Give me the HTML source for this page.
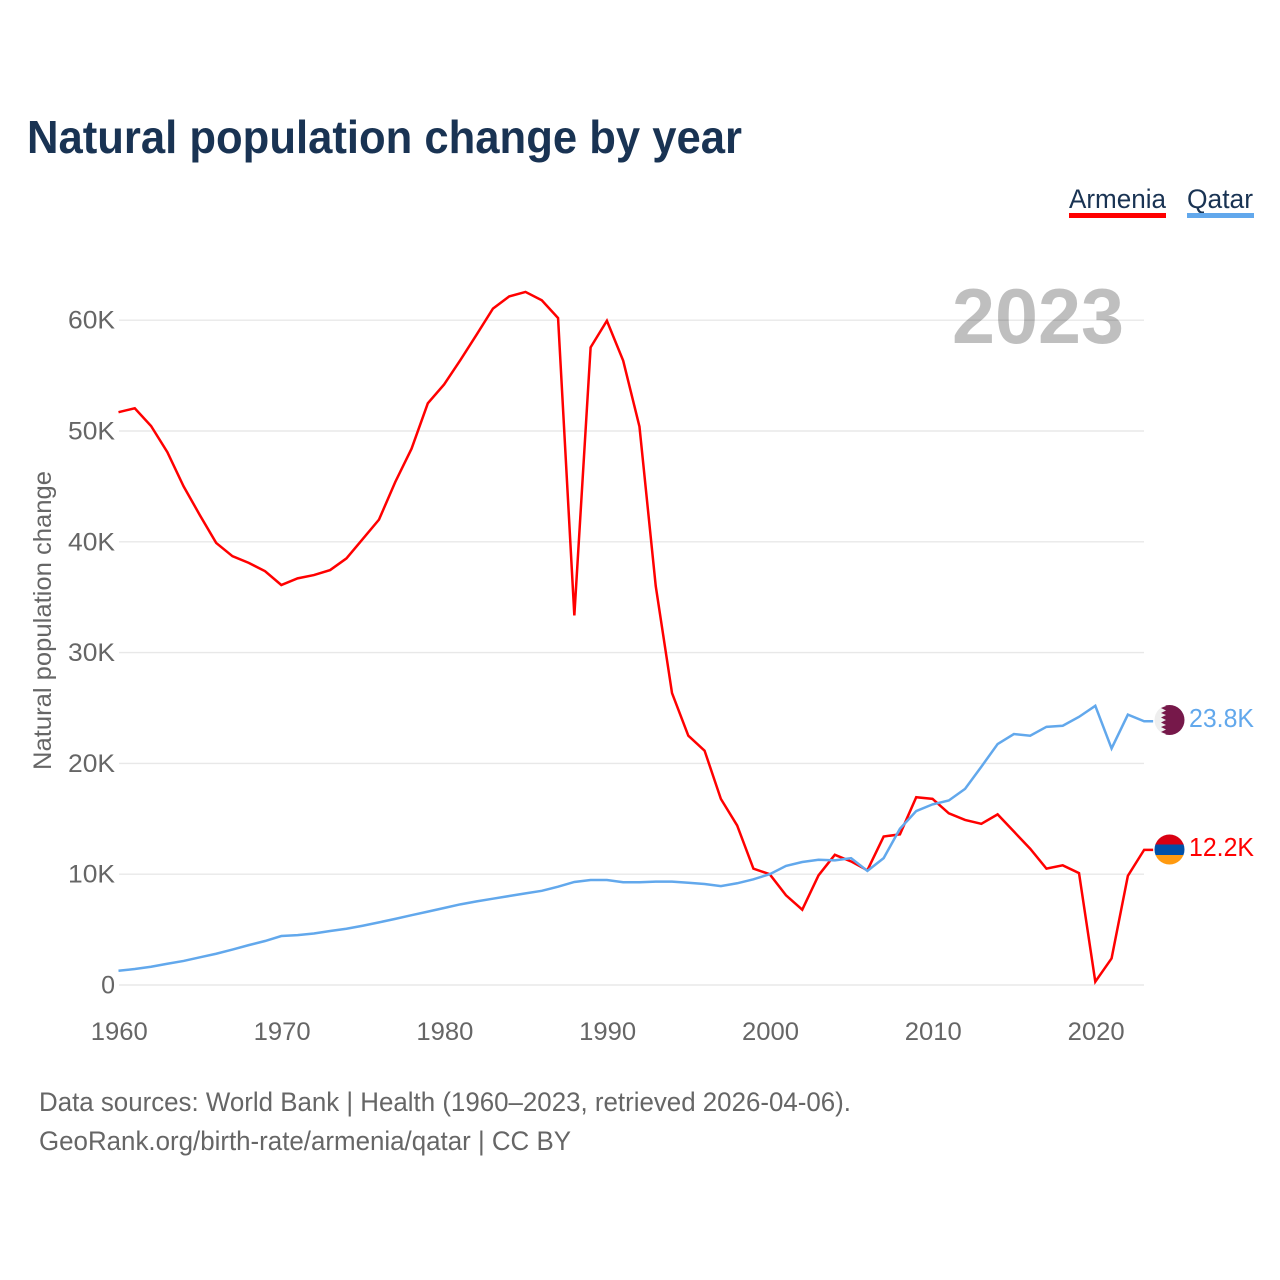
<!DOCTYPE html>
<html lang="en">
<head>
<meta charset="utf-8">
<title>Natural population change by year</title>
<style>
html,body{margin:0;padding:0;background:#fff;width:1280px;height:1280px;overflow:hidden}
svg{display:block}
text{font-family:"Liberation Sans",sans-serif}
</style>
</head>
<body>
<svg id="chart" xmlns="http://www.w3.org/2000/svg" width="1280" height="1280" viewBox="0 0 1280 1280">
  <defs>
    <clipPath id="clip-qa"><circle cx="1169.5" cy="720" r="15"/></clipPath>
    <clipPath id="clip-am"><circle cx="1169.5" cy="849.5" r="15"/></clipPath>
  </defs>
  <text x="27" y="153" font-size="46" font-weight="700" fill="#193353" textLength="715" lengthAdjust="spacingAndGlyphs">Natural population change by year</text>

  <g>
    <text x="1069" y="208" font-size="27" fill="#193353" textLength="97" lengthAdjust="spacingAndGlyphs">Armenia</text>
    <rect x="1069" y="213" width="97" height="5" fill="#ff0000"/>
  </g>
  <g>
    <text x="1187" y="208" font-size="27" fill="#193353" textLength="66" lengthAdjust="spacingAndGlyphs">Qatar</text>
    <rect x="1187" y="213" width="67" height="5" fill="#62a8ec"/>
  </g>

  <g id="grid"></g>
  <g id="yticks"></g>
  <g id="xticks"></g>

  <text x="1124" y="343" text-anchor="end" font-size="78" font-weight="700" fill="#000000" fill-opacity="0.25" textLength="172" lengthAdjust="spacingAndGlyphs">2023</text>

  <text transform="translate(51,770) rotate(-90)" font-size="25" fill="#666666" textLength="299" lengthAdjust="spacingAndGlyphs">Natural population change</text>

  <g id="series"></g>

  <g>
    <g clip-path="url(#clip-qa)">
      <rect x="1154" y="704" width="32" height="32" fill="#eeeeee"/>
      <polygon fill="#76184a" points="1186,704 1161,704 1166,706 1161,708 1166,710.5 1161,713 1166,715 1161,717.5 1166,720 1161,722.5 1166,725 1161,727 1166,729.5 1161,732 1166,734 1161,736 1186,736"/>
    </g>
  </g>
  <g>
    <g clip-path="url(#clip-am)">
      <rect x="1154" y="834" width="32" height="11" fill="#d90012"/>
      <rect x="1154" y="844.5" width="32" height="11" fill="#0050a8"/>
      <rect x="1154" y="855" width="32" height="11" fill="#ff9a10"/>
    </g>
  </g>

  <text id="label-qatar" x="1254" y="727" text-anchor="end" font-size="26" fill="#62a8ec" textLength="65" lengthAdjust="spacingAndGlyphs"></text>
  <text id="label-armenia" x="1254" y="856" text-anchor="end" font-size="26" fill="#ff0000" textLength="65" lengthAdjust="spacingAndGlyphs"></text>

  <text x="39" y="1111" font-size="27" fill="#666666" textLength="812" lengthAdjust="spacingAndGlyphs">Data sources: World Bank | Health (1960–2023, retrieved 2026-04-06).</text>
  <text x="39" y="1150" font-size="27" fill="#666666" textLength="532" lengthAdjust="spacingAndGlyphs">GeoRank.org/birth-rate/armenia/qatar | CC BY</text>
</svg>
<script>
const startYear = 1960;
const armeniaValues = [51.7,52.05,50.45,48.1,45.0,42.4,39.9,38.7,38.1,37.35,36.1,36.7,37.0,37.45,38.5,40.25,42.0,45.4,48.4,52.5,54.2,56.4,58.7,61.05,62.15,62.55,61.8,60.2,33.35,57.55,59.95,56.35,50.4,36.0,26.35,22.5,21.15,16.8,14.4,10.5,10.0,8.1,6.8,9.9,11.75,11.15,10.35,13.4,13.6,16.95,16.8,15.5,14.9,14.55,15.4,13.85,12.3,10.5,10.8,10.1,0.3,2.4,9.85,12.2];
const qatarValues = [1.29,1.44,1.65,1.92,2.17,2.5,2.82,3.2,3.6,3.97,4.42,4.5,4.65,4.87,5.08,5.35,5.65,5.97,6.3,6.62,6.95,7.28,7.55,7.79,8.03,8.27,8.5,8.87,9.3,9.48,9.48,9.27,9.27,9.33,9.33,9.23,9.12,8.93,9.18,9.54,10.0,10.75,11.1,11.3,11.25,11.45,10.3,11.45,14.1,15.7,16.3,16.65,17.7,19.7,21.75,22.65,22.5,23.3,23.4,24.2,25.2,21.35,24.4,23.8];
const yTicks = [0,10,20,30,40,50,60];
const xTicks = [1960,1970,1980,1990,2000,2010,2020];

const NS = 'http://www.w3.org/2000/svg';
const xPos = function (year) { return 118.5 + (year - 1960) * 16.28; };
const yPos = function (v) { return 985 - v * 11.08; };
const fmtK = function (v) { return v.toFixed(1) + 'K'; };

const grid = document.getElementById('grid');
const yG = document.getElementById('yticks');
const xG = document.getElementById('xticks');

yTicks.forEach(function (t) {
  const l = document.createElementNS(NS, 'line');
  
  
  l.setAttribute('x1', 119);
  l.setAttribute('x2', 1144);
  l.setAttribute('y1', yPos(t));
  l.setAttribute('y2', yPos(t));
  l.setAttribute('stroke', '#e8e8e8');
  l.setAttribute('stroke-width', 1.4);
  grid.appendChild(l);

  const s = document.createElementNS(NS, 'text');
  
  
  s.setAttribute('x', 115);
  s.setAttribute('y', yPos(t) + 8.5);
  s.setAttribute('text-anchor', 'end');
  s.setAttribute('font-size', 25);
  s.setAttribute('fill', '#666666');
  s.textContent = t === 0 ? '0' : t + 'K';
  if (t !== 0) {
    s.setAttribute('textLength', 47);
    s.setAttribute('lengthAdjust', 'spacingAndGlyphs');
  }
  yG.appendChild(s);
});

xTicks.forEach(function (t) {
  const s = document.createElementNS(NS, 'text');
  
  
  s.setAttribute('x', xPos(t) + 0.8);
  s.setAttribute('y', 1040);
  s.setAttribute('text-anchor', 'middle');
  s.setAttribute('font-size', 25);
  s.setAttribute('fill', '#666666');
  s.setAttribute('textLength', 57);
  s.setAttribute('lengthAdjust', 'spacingAndGlyphs');
  s.textContent = t;
  xG.appendChild(s);
});

function drawSeries(values, color, name) {
  const pts = values.map(function (v, i) { return xPos(startYear + i) + ',' + yPos(v); });
  const last = values[values.length - 1];
  pts.push((xPos(startYear + values.length - 1) + 9) + ',' + yPos(last));
  const p = document.createElementNS(NS, 'polyline');
  
  
  p.setAttribute('points', pts.join(' '));
  p.setAttribute('fill', 'none');
  p.setAttribute('stroke', color);
  p.setAttribute('stroke-width', 2.5);
  p.setAttribute('stroke-linejoin', 'miter');
  document.getElementById('series').appendChild(p);
}
drawSeries(armeniaValues, '#ff0000', 'line-armenia');
drawSeries(qatarValues, '#62a8ec', 'line-qatar');

document.getElementById('label-qatar').textContent = fmtK(qatarValues[qatarValues.length - 1]);
document.getElementById('label-armenia').textContent = fmtK(armeniaValues[armeniaValues.length - 1]);
</script>
</body>
</html>
